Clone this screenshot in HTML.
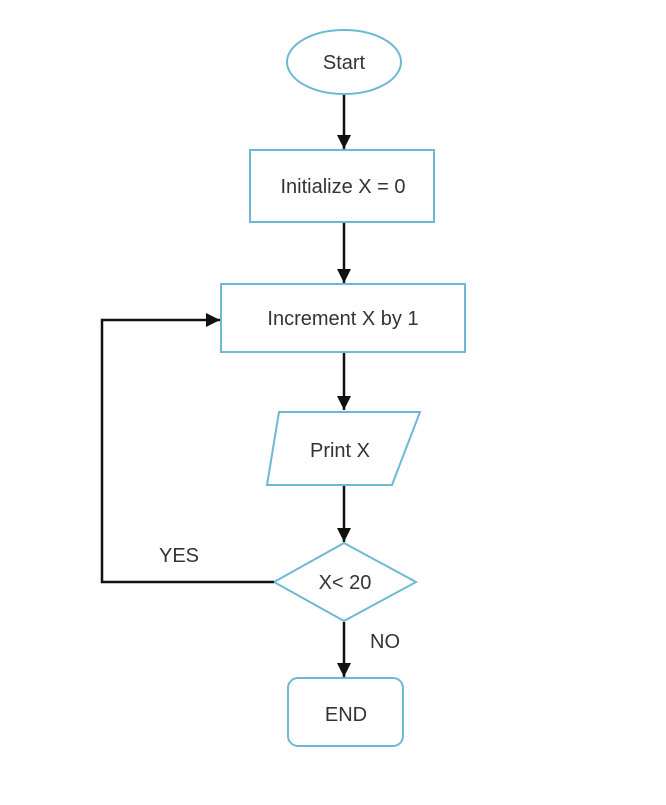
<!DOCTYPE html>
<html><head><style>body{margin:0;background:#fff}</style></head><body>
<svg width="666" height="800" xmlns="http://www.w3.org/2000/svg" font-family="Liberation Sans, sans-serif" font-size="20" fill="#333">
<defs><marker id="a" markerWidth="10" markerHeight="10" refX="9" refY="5" orient="auto" markerUnits="userSpaceOnUse"><path d="M0,0 L10,5 L0,10z" fill="#111"/></marker>
<marker id="b" viewBox="0 0 12 12" markerWidth="14" markerHeight="14" refX="12" refY="6" orient="auto" markerUnits="userSpaceOnUse"><path d="M0,0 L12,6 L0,12z" fill="#111"/></marker></defs>
<g fill="#fff" stroke="#6fb8d4" stroke-width="2">
<ellipse cx="344" cy="62" rx="57" ry="32"/>
<rect x="250" y="150" width="184" height="72"/>
<rect x="221" y="284" width="244" height="68"/>
<polygon points="279,412 420,412 392,485 267,485"/>
<polygon points="344,543 416,582 344,621 274,582"/>
<rect x="288" y="678" width="115" height="68" rx="10"/>
</g>
<g stroke="#111" stroke-width="2.5" fill="none" marker-end="url(#b)">
<line x1="344" y1="95" x2="344" y2="149"/>
<line x1="344" y1="223" x2="344" y2="283"/>
<line x1="344" y1="353" x2="344" y2="410"/>
<line x1="344" y1="486" x2="344" y2="542"/>
<line x1="344" y1="622" x2="344" y2="677"/>
<polyline points="274,582 102,582 102,320 220,320"/>
</g>
<g text-anchor="middle">
<text x="344" y="69">Start</text>
<text x="343" y="193">Initialize X = 0</text>
<text x="343" y="325">Increment X by 1</text>
<text x="340" y="457">Print X</text>
<text x="345" y="589">X&lt; 20</text>
<text x="346" y="721">END</text>
<text x="179" y="562">YES</text>
<text x="385" y="648">NO</text>
</g>
</svg>
</body></html>
